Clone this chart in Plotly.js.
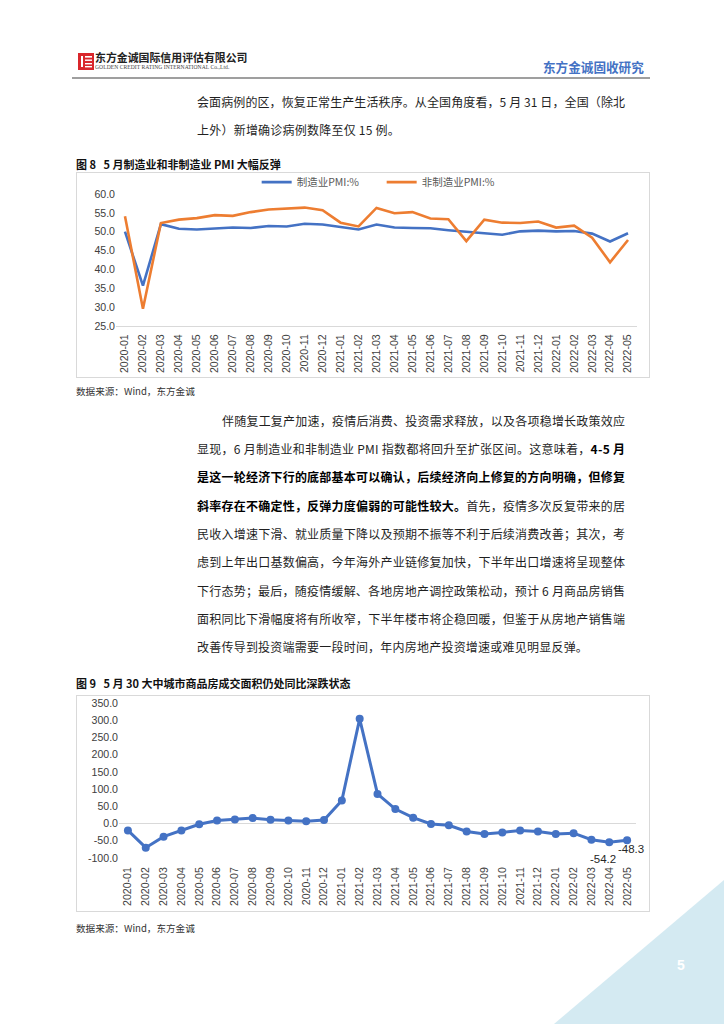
<!DOCTYPE html>
<html><head><meta charset="utf-8">
<script src="https://cdn.plot.ly/plotly-3.0.1.min.js"></script>
<style>
body{margin:0;width:724px;height:1024px;position:relative;overflow:hidden;background:#fff;font-family:"Noto Sans CJK SC",sans-serif;}
.abs{position:absolute;}
.ln{position:absolute;left:197px;width:428px;font-size:12px;line-height:20px;height:20px;color:#1f1f1f;white-space:nowrap;}
.ln b{font-weight:700;color:#000;}
.figt{position:absolute;left:76px;font-size:11px;font-weight:700;color:#111;line-height:16px;white-space:nowrap;}
.src{position:absolute;left:76px;font-size:9.6px;color:#333;line-height:14px;white-space:nowrap;}
.box{position:absolute;left:76px;width:572px;border:1px solid #d9d9d9;background:#fff;}
</style></head>
<body>
<svg class="abs" style="left:0;top:0" width="724" height="1024">
  <polygon points="724,880 724,1024 554,1024" fill="#d4eaf2"/>
  <line x1="72" y1="78" x2="650" y2="78" stroke="#7f7f7f" stroke-width="1.3"/>
  <rect x="78" y="53" width="16" height="17" fill="#d9262b"/>
  <rect x="81" y="56" width="2" height="11" fill="#fff"/>
  <rect x="85" y="56" width="7" height="1.6" fill="#fff"/>
  <rect x="85" y="59.5" width="7" height="1.4" fill="#fff"/>
  <rect x="85" y="63" width="7" height="1.4" fill="#fff"/>
  <rect x="85" y="66" width="7" height="1.4" fill="#fff"/>
</svg>
<div class="abs" style="left:95px;top:50px;font-family:'Noto Sans CJK SC';font-weight:700;font-size:10.9px;line-height:14px;color:#222;white-space:nowrap;">东方金诚国际信用评估有限公司</div>
<div class="abs" style="left:95px;top:64px;font-family:'Liberation Serif';font-size:5.6px;line-height:7px;color:#444;white-space:nowrap;letter-spacing:0.05px;">GOLDEN CREDIT RATING INTERNATIONAL Co.,Ltd.</div>
<div class="abs" style="left:543px;top:58px;font-weight:700;font-size:12.6px;line-height:18px;color:#4472C4;white-space:nowrap;">东方金诚固收研究</div>

<div class="ln full" style="top:92px;">会面病例的区，恢复正常生产生活秩序。从全国角度看，5 月 31 日，全国（除北</div>
<div class="ln last" style="top:120px;">上外）新增确诊病例数降至仅 15 例。</div>

<div class="figt" style="top:156px;">图 8&nbsp;&nbsp;&nbsp;5 月制造业和非制造业 PMI 大幅反弹</div>
<div class="box" style="top:172px;height:204px;"><div id="c1" style="width:572px;height:204px;"></div></div>
<div class="src" style="top:384px;">数据来源：Wind，东方金诚</div>

<div class="ln full" style="top:411px;left:222px;width:403px;">伴随复工复产加速，疫情后消费、投资需求释放，以及各项稳增长政策效应</div>
<div class="ln full" style="top:439px;">显现，6 月制造业和非制造业 PMI 指数都将回升至扩张区间。这意味着，<b>4-5 月</b></div>
<div class="ln full" style="top:467px;"><b>是这一轮经济下行的底部基本可以确认，后续经济向上修复的方向明确，但修复</b></div>
<div class="ln full" style="top:496px;"><b>斜率存在不确定性，反弹力度偏弱的可能性较大。</b>首先，疫情多次反复带来的居</div>
<div class="ln full" style="top:524px;">民收入增速下滑、就业质量下降以及预期不振等不利于后续消费改善；其次，考</div>
<div class="ln full" style="top:552px;">虑到上年出口基数偏高，今年海外产业链修复加快，下半年出口增速将呈现整体</div>
<div class="ln full" style="top:581px;">下行态势；最后，随疫情缓解、各地房地产调控政策松动，预计 6 月商品房销售</div>
<div class="ln full" style="top:609px;">面积同比下滑幅度将有所收窄，下半年楼市将企稳回暖，但鉴于从房地产销售端</div>
<div class="ln last" style="top:637px;">改善传导到投资端需要一段时间，年内房地产投资增速或难见明显反弹。</div>

<div class="figt" style="top:675px;">图 9&nbsp;&nbsp;&nbsp;5 月 30 大中城市商品房成交面积仍处同比深跌状态</div>
<div class="box" style="top:695px;height:215px;"><div id="c2" style="width:572px;height:215px;"></div></div>
<div class="src" style="top:921px;">数据来源：Wind，东方金诚</div>

<div class="abs" style="left:677px;top:957px;color:#fff;font-weight:700;font-size:14px;font-family:'Liberation Sans';">5</div>

<script>
var months = ['2020-01','2020-02','2020-03','2020-04','2020-05','2020-06','2020-07','2020-08','2020-09','2020-10','2020-11','2020-12',
  '2021-01','2021-02','2021-03','2021-04','2021-05','2021-06','2021-07','2021-08','2021-09','2021-10','2021-11','2021-12',
  '2022-01','2022-02','2022-03','2022-04','2022-05'];
var pmiMfg = [50.0,35.7,52.0,50.8,50.6,50.9,51.1,51.0,51.5,51.4,52.1,51.9,51.3,50.6,51.9,51.1,51.0,50.9,50.4,50.1,49.6,49.2,50.1,50.3,50.1,50.2,49.5,47.4,49.6];
var pmiNonMfg = [54.1,29.6,52.3,53.2,53.6,54.4,54.2,55.2,55.9,56.2,56.4,55.7,52.4,51.4,56.3,54.9,55.2,53.5,53.3,47.5,53.2,52.4,52.3,52.7,51.1,51.6,48.4,41.9,47.8];
var salesYoY = [-20,-70,-38,-20,-2,9,12,16,11,9,7,10,67,304,86,42,17,-1,-5,-23,-30,-26,-20,-23,-30,-28,-47,-54.2,-48.3];
var pmiTicks = [25,30,35,40,45,50,55,60];
var salesTicks = [-100,-50,0,50,100,150,200,250,300,350];

// fit paragraph lines (justified look)
(function(){
  var lines = document.querySelectorAll('.ln');
  var spacings = [];
  lines.forEach(function(el){
    el.innerHTML = '<span>' + el.innerHTML + '</span>';
  });
  lines.forEach(function(el){
    if (!el.classList.contains('full')) return;
    var sp = el.firstChild;
    var w0 = sp.getBoundingClientRect().width;
    var n = el.textContent.length;
    var target = el.getBoundingClientRect().width;
    var ls = (target - w0) / (n - 1);
    el.style.letterSpacing = ls + 'px';
    spacings.push(ls);
  });
  var avg = spacings.reduce(function(a,b){return a+b;},0) / spacings.length;
  lines.forEach(function(el){
    if (el.classList.contains('last')) el.style.letterSpacing = avg + 'px';
  });
})();

var tickFont = {family:'Liberation Sans, Noto Sans CJK SC', size:10.6, color:'#404040'};
var cfg = {staticPlot:true, displayModeBar:false};

Plotly.newPlot('c1', [
  {x:months, y:pmiMfg, type:'scatter', mode:'lines', name:'制造业PMI:%', line:{color:'#4472C4', width:2.6}},
  {x:months, y:pmiNonMfg, type:'scatter', mode:'lines', name:'非制造业PMI:%', line:{color:'#ED7D31', width:2.6}}
], {
  width:572, height:204,
  margin:{l:39, r:12, t:21, b:51, autoexpand:false},
  paper_bgcolor:'#fff', plot_bgcolor:'#fff',
  showlegend:true,
  legend:{orientation:'h', x:0.27, xanchor:'left', y:1.2, yanchor:'top', entrywidth:80, entrywidthmode:'pixels', font:{family:'Noto Sans CJK SC', size:10.5, color:'#595959'}, bgcolor:'rgba(0,0,0,0)'},
  xaxis:{type:'category', range:[-0.5, months.length-0.5], tickangle:-90, tickfont:tickFont, ticklabelstandoff:3, showgrid:false, zeroline:false, showline:true, linecolor:'#d9d9d9', linewidth:1, ticks:''},
  yaxis:{range:[25,60], tickvals:pmiTicks, ticktext:pmiTicks.map(function(v){return v.toFixed(1);}), tickfont:tickFont, showgrid:false, zeroline:false, showline:false, ticks:''}
}, cfg);

Plotly.newPlot('c2', [
  {x:months, y:salesYoY, type:'scatter', mode:'lines+markers', line:{color:'#4472C4', width:3}, marker:{color:'#4472C4', size:8}, showlegend:false}
], {
  width:572, height:215,
  margin:{l:42, r:13, t:7, b:53, autoexpand:false},
  paper_bgcolor:'#fff', plot_bgcolor:'#fff',
  xaxis:{type:'category', range:[-0.5, months.length-0.5], tickangle:-90, tickfont:tickFont, ticklabelstandoff:6, showgrid:false, zeroline:false, showline:false, ticks:''},
  yaxis:{range:[-100,350], tickvals:salesTicks, ticktext:salesTicks.map(function(v){return v.toFixed(1);}), tickfont:tickFont, showgrid:false, zeroline:true, zerolinecolor:'#d9d9d9', zerolinewidth:1, showline:false, ticks:''},
  annotations:[
    {x:months[27], y:salesYoY[27], text:salesYoY[27].toFixed(1), showarrow:false, xshift:-6, yshift:-17, font:{family:'Liberation Sans', size:11.5, color:'#262626'}},
    {x:months[28], y:salesYoY[28], text:salesYoY[28].toFixed(1), showarrow:false, xshift:4, yshift:-9, font:{family:'Liberation Sans', size:11.5, color:'#262626'}}
  ]
}, cfg);
</script>
</body></html>
